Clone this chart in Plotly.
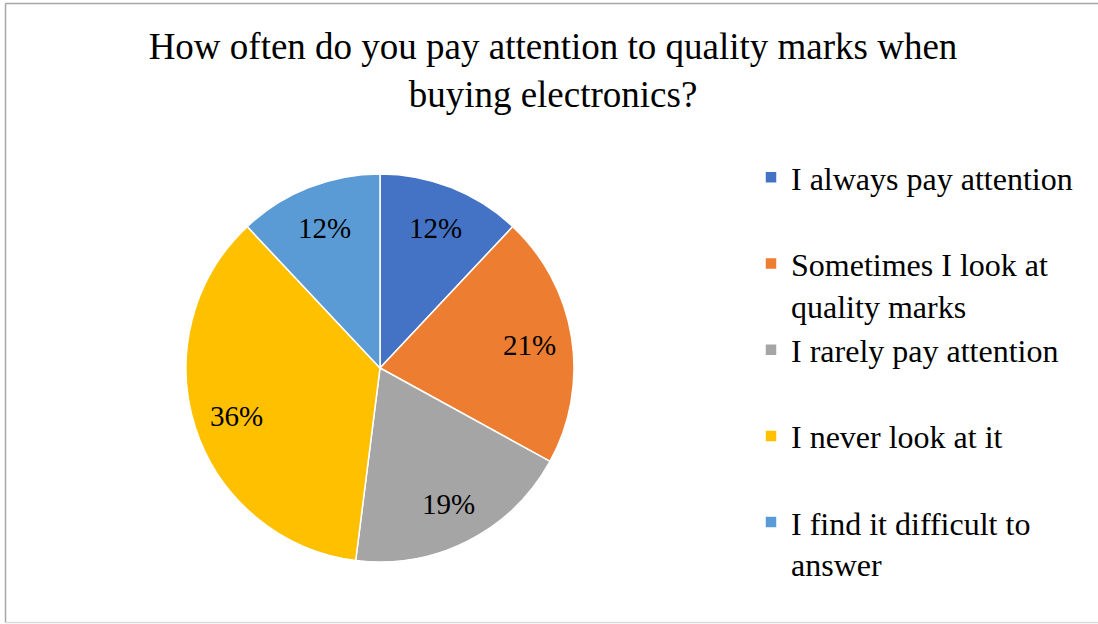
import math
import plotly.graph_objects as go

# Survey answers and their shares (percent)
answers = [
    "I always pay attention",
    "Sometimes I look at quality marks",
    "I rarely pay attention",
    "I never look at it",
    "I find it difficult to answer",
]
legend_labels = [
    "I always pay attention<br>&nbsp;",
    "Sometimes I look at<br>quality marks",
    "I rarely pay attention<br>&nbsp;",
    "I never look at it<br>&nbsp;",
    "I find it difficult to<br>answer",
]
shares = [12, 21, 19, 36, 12]
colors = ["#4472C4", "#ED7D31", "#A5A5A5", "#FFC000", "#5B9BD5"]

title_text = "How often do you pay attention to quality marks when<br>buying electronics?"

W, H = 1098, 624
FONT = "Liberation Serif, Times New Roman, serif"

# Pie placement (pixels of the page)
PIE_X0, PIE_X1, PIE_Y0, PIE_Y1 = 186, 574, 174, 562
cx, cy = (PIE_X0 + PIE_X1) / 2, (PIE_Y0 + PIE_Y1) / 2
radius = (PIE_X1 - PIE_X0) / 2

fig = go.Figure(
    go.Pie(
        labels=legend_labels,
        values=shares,
        sort=False,
        direction="clockwise",
        rotation=0,
        marker=dict(colors=colors, line=dict(color="white", width=1.5)),
        textinfo="none",
        hovertext=answers,
        hoverinfo="text+percent",
        domain=dict(x=[PIE_X0 / W, PIE_X1 / W], y=[1 - PIE_Y1 / H, 1 - PIE_Y0 / H]),
    )
)

# Percentage labels, placed at ~78% of the radius on each slice's mid-angle
total = sum(shares)
annotations = []
cum = 0
for v in shares:
    mid = (cum + v / 2) / total * 2 * math.pi
    cum += v
    px = cx + 0.78 * radius * math.sin(mid)
    py = cy - 0.78 * radius * math.cos(mid) + 1
    annotations.append(dict(
        x=px / W, y=1 - py / H, xref="paper", yref="paper",
        text=f"{v}%", showarrow=False, xanchor="center", yanchor="middle",
        font=dict(family=FONT, size=29, color="black"),
    ))

# Chart-area frame
frame = "#A6A6A6"
shapes = [
    dict(type="line", xref="paper", yref="paper", x0=5.5 / W, x1=5.5 / W,
         y0=1 - 3.5 / H, y1=1 - 622.5 / H, line=dict(color=frame, width=1.5)),
    dict(type="line", xref="paper", yref="paper", x0=5.5 / W, x1=1.0,
         y0=1 - 3.5 / H, y1=1 - 3.5 / H, line=dict(color=frame, width=1.5)),
    dict(type="line", xref="paper", yref="paper", x0=5.5 / W, x1=1.0,
         y0=1 - 622.5 / H, y1=1 - 622.5 / H, line=dict(color="#D9D9D9", width=1.5)),
]

fig.update_layout(
    width=W,
    height=H,
    margin=dict(l=0, r=0, t=0, b=0),
    paper_bgcolor="white",
    plot_bgcolor="white",
    font=dict(family=FONT, color="black"),
    title=dict(
        text=title_text,
        x=553 / W,
        xanchor="center",
        y=1 - 59 / H,
        yanchor="middle",
        yref="container",
        font=dict(family=FONT, size=37, color="black"),
    ),
    legend=dict(
        x=751 / W,
        xanchor="left",
        y=1 - 150 / H,
        yanchor="top",
        valign="top",
        font=dict(family=FONT, size=32, color="black"),
        bgcolor="rgba(0,0,0,0)",
        traceorder="normal",
    ),
    annotations=annotations,
    shapes=shapes,
)

fig.write_html("out.html")
